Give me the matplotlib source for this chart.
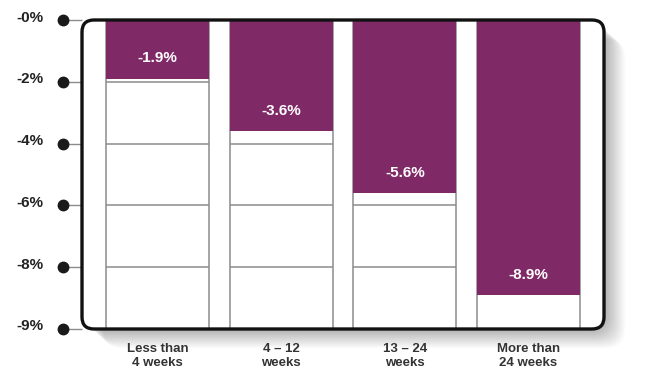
"""
Bar chart of the average change by time band, drawn into a rounded frame
"""

import numpy as np
import matplotlib.pyplot as plt
from matplotlib.patches import FancyBboxPatch
from matplotlib.transforms import blended_transform_factory, ScaledTranslation

CATEGORIES = ["Less than\n4 weeks", "4 \u2013 12\nweeks", "13 \u2013 24\nweeks", "More than\n24 weeks"]
CHANGES = [-1.9, -3.6, -5.6, -8.9]
TICK_VALUES = [0, -2, -4, -6, -8, -10]
TICK_LABELS = ["-0%", "-2%", "-4%", "-6%", "-8%", "-9%"]
GRID_VALUES = [-2, -4, -6, -8]

PURPLE = "#7f2a67"
GREY = "#8c8c8c"

plt.rcParams['font.family'] = ['Liberation Sans', 'DejaVu Sans']

W_PX, H_PX = 657, 391
fig = plt.figure(figsize=(W_PX / 100, H_PX / 100), dpi=100)
fig.patch.set_facecolor("white")

# axes = the rounded frame (pixel box 82..604 x 20..329)
left, right, top, bottom = 82, 604, 20, 329
ax = fig.add_axes([left / W_PX, 1 - bottom / H_PX,
                   (right - left) / W_PX, (bottom - top) / H_PX])
ax_w, ax_h = right - left, bottom - top
ax.patch.set_visible(False)
for spine in ax.spines.values():
    spine.set_visible(False)

xs = np.arange(len(CATEGORIES))
bar_w = 0.834
ax.set_xlim(-0.611, len(CATEGORIES) - 1 + 0.611)
ax.set_ylim(-10, 0)

# frame: soft shadow, white fill, black rounded border
r = 12 / ax_w
aspect = ax_w / ax_h
for k in range(1, 40):
    off = k * 0.55
    ax.add_patch(FancyBboxPatch(
        (off / ax_w, -off * 0.9 / ax_h), 1, 1,
        boxstyle="round,pad=0,rounding_size=%f" % (r * 1.6), mutation_aspect=aspect,
        transform=ax.transAxes, facecolor="black", edgecolor="none",
        alpha=0.0085, zorder=0, clip_on=False))
ax.add_patch(FancyBboxPatch(
    (0, 0), 1, 1, boxstyle="round,pad=0,rounding_size=%f" % r,
    mutation_aspect=aspect, transform=ax.transAxes, facecolor="white",
    edgecolor="none", zorder=0.5, clip_on=False))
ax.add_patch(FancyBboxPatch(
    (0, 0), 1, 1, boxstyle="round,pad=0,rounding_size=%f" % r,
    mutation_aspect=aspect, transform=ax.transAxes, facecolor="none",
    edgecolor="#111111", linewidth=2.4, zorder=6, clip_on=False))

# column boxes with their own grid lines
ax.bar(xs, -10, width=bar_w, color="white", edgecolor=GREY, linewidth=1.1, zorder=2)
for g in GRID_VALUES:
    ax.hlines(np.full(len(xs), g), xs - bar_w / 2, xs + bar_w / 2,
              color=GREY, linewidth=1.1, zorder=2.5)

ax.bar(xs, CHANGES, width=bar_w, color=PURPLE, zorder=3)
for x, v in zip(xs, CHANGES):
    ax.text(x, v + 0.66, "%.1f%%" % v, ha="center", va="center",
            color="white", fontsize=11, fontweight="bold", zorder=4)

# y axis: grey stub, black dot, bold label sitting a little above the dot
ax.set_yticks(TICK_VALUES, TICK_LABELS)
ax.tick_params(axis="y", length=14.4, width=1, color=GREY, pad=13.5,
               labelsize=11, labelcolor="#222222")
lift = ScaledTranslation(0, 4 / 100, fig.dpi_scale_trans)
for lab in ax.get_yticklabels():
    lab.set_fontweight("bold")
    lab.set_transform(lab.get_transform() + lift)
trans = blended_transform_factory(ax.transAxes, ax.transData)
ax.plot(np.full(len(TICK_VALUES), -19 / ax_w), TICK_VALUES, "o", ms=7.5,
        color="#1a1a1a", transform=trans, clip_on=False, zorder=7)

ax.set_xticks(xs, CATEGORIES)
ax.tick_params(axis="x", length=0, pad=10, labelsize=9.5, labelcolor="#333333")
for lab in ax.get_xticklabels():
    lab.set_fontweight("bold")
    lab.set_linespacing(1.2)

fig.savefig("out.png", dpi=100)
